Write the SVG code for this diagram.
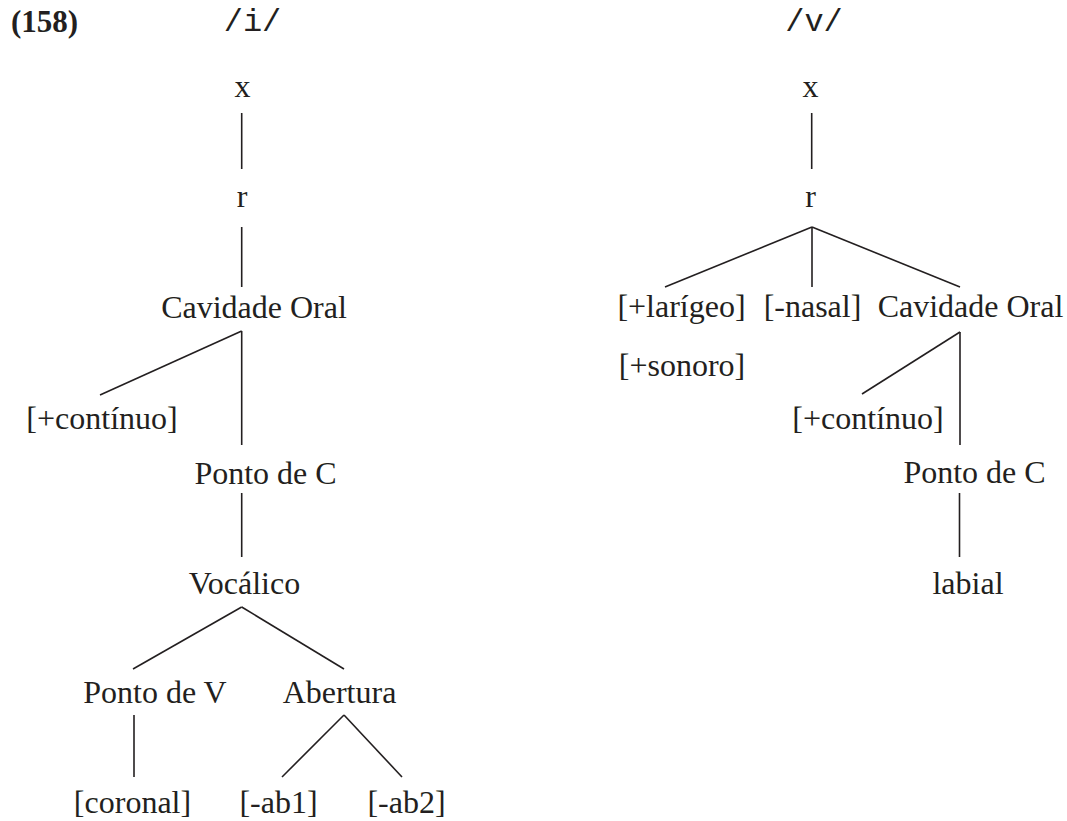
<svg xmlns="http://www.w3.org/2000/svg" width="1067" height="821" viewBox="0 0 1067 821">
<style>
text{font-family:"Liberation Serif","Times New Roman",serif;font-size:32px;fill:#231f20;text-anchor:middle}
.mono{font-family:"Liberation Mono","Courier New",monospace}
.num{font-weight:bold;text-anchor:start;font-size:31px}
line{stroke:#231f20;stroke-width:1.6;fill:none}
</style>
<rect width="1067" height="821" fill="#fff"/>
<text class="num" x="11" y="32">(158)</text>
<g id="left-tree">
<g id="l-phon"><text class="mono" x="252.5" y="31">/i/</text></g>
<g id="l-x"><text x="242.5" y="97">x</text></g>
<g id="l-r"><text x="242" y="207">r</text></g>
<g id="l-co"><text x="254" y="318">Cavidade Oral</text></g>
<g id="l-cont"><text x="102" y="429">[+contínuo]</text></g>
<g id="l-pc"><text x="265.5" y="484">Ponto de C</text></g>
<g id="l-voc"><text x="244.5" y="594">Vocálico</text></g>
<g id="l-pv"><text x="155" y="703">Ponto de V</text></g>
<g id="l-ab"><text x="339.5" y="703">Abertura</text></g>
<g id="l-cor"><text x="132.5" y="813">[coronal]</text></g>
<g id="l-ab1"><text x="278.5" y="813">[-ab1]</text></g>
<g id="l-ab2"><text x="406.5" y="813">[-ab2]</text></g>
</g>
<g id="right-tree">
<g id="r-phon"><text class="mono" x="814" y="31">/v/</text></g>
<g id="r-x"><text x="810.5" y="97">x</text></g>
<g id="r-r"><text x="810.5" y="207">r</text></g>
<g id="r-lar"><text x="681.5" y="317">[+larígeo]</text></g>
<g id="r-nas"><text x="812.5" y="317">[-nasal]</text></g>
<g id="r-co"><text x="970.5" y="317">Cavidade Oral</text></g>
<g id="r-son"><text x="682" y="376">[+sonoro]</text></g>
<g id="r-cont"><text x="868" y="429">[+contínuo]</text></g>
<g id="r-pc"><text x="974.5" y="483">Ponto de C</text></g>
<g id="r-lab"><text x="968" y="594">labial</text></g>
</g>
<g id="connectors">
<line x1="241.7" y1="113" x2="241.7" y2="169"/>
<line x1="241.7" y1="227" x2="241.7" y2="287"/>
<line x1="241.7" y1="331" x2="100" y2="395"/>
<line x1="241.7" y1="331" x2="241.7" y2="445"/>
<line x1="241.7" y1="493" x2="241.7" y2="557"/>
<line x1="241.7" y1="607" x2="133" y2="669"/>
<line x1="241.7" y1="607" x2="344" y2="669"/>
<line x1="134" y1="715" x2="134" y2="777"/>
<line x1="344" y1="715" x2="282" y2="777"/>
<line x1="344" y1="715" x2="402" y2="777"/>
<line x1="811.7" y1="113" x2="811.7" y2="169"/>
<line x1="812" y1="227" x2="665" y2="287"/>
<line x1="812" y1="227" x2="812" y2="287"/>
<line x1="812" y1="227" x2="960" y2="287"/>
<line x1="960" y1="332" x2="862" y2="394"/>
<line x1="960" y1="332" x2="960" y2="445"/>
<line x1="959.5" y1="493" x2="959.5" y2="557"/>
</g>
</svg>
